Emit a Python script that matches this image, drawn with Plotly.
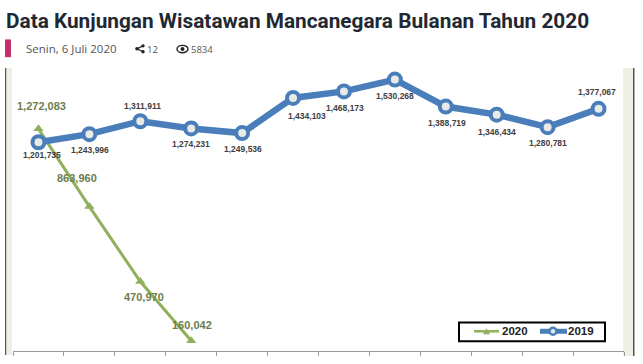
import plotly.graph_objects as go

months = ["Jan", "Feb", "Mar", "Apr", "Mei", "Jun", "Jul", "Agu", "Sep", "Okt", "Nov", "Des"]
values_2019 = [1201735, 1243996, 1311911, 1274231, 1249536, 1434103, 1468173, 1530268, 1388719, 1346434, 1280781, 1377067]
labels_2019 = ["1,201,735", "1,243,996", "1,311,911", "1,274,231", "1,249,536", "1,434,103", "1,468,173", "1,530,268", "1,388,719", "1,346,434", "1,280,781", "1,377,067"]
values_2020 = [1272083, 863960, 470970, 160042]
labels_2020 = ["1,272,083", "863,960", "470,970", "160,042"]
shifts_2019 = [(4, -13), (1, -16), (2, 15), (0, -16), (1, -16), (14, -18), (1, -17), (0, -16), (1, -16), (0, -17), (0, -16), (-2, 17)]
shifts_2020 = [(3, 23), (-12, 29), (4, -15), (1, 16)]

W, H = 643, 364
L, R, T, B = 13, 624, 69, 355
BLUE, GREEN, LABEL_GREEN = "#4a7ebb", "#8fb05c", "#6d7d4c"

def px(x):
    return (x - L) / (R - L)

def py(y):
    return (B - y) / (B - T)

fig = go.Figure()
fig.add_trace(go.Scatter(x=months[:4], y=values_2020, name="2020", mode="lines+markers",
                         line=dict(color=GREEN, width=3),
                         marker=dict(symbol="triangle-up", size=9, color=GREEN)))
fig.add_trace(go.Scatter(x=months, y=values_2019, name="2019", mode="lines+markers",
                         line=dict(color=BLUE, width=6.5),
                         marker=dict(symbol="circle", size=12, color="#e9e9e6", line=dict(color=BLUE, width=4))))

ann = []
for m, v, t, (dx, dy) in zip(months, values_2019, labels_2019, shifts_2019):
    ann.append(dict(x=m, y=v, text=t, showarrow=False, xshift=dx, yshift=dy,
                    font=dict(family="Liberation Sans", size=8.5, color="#404040", weight="bold")))
for m, v, t, (dx, dy) in zip(months, values_2020, labels_2020, shifts_2020):
    ann.append(dict(x=m, y=v, text=t, showarrow=False, xshift=dx, yshift=dy,
                    font=dict(family="Liberation Sans", size=11, color=LABEL_GREEN, weight="bold")))

def header(x, y, text, size, color, family="Open Sans", weight="normal"):
    ann.append(dict(xref="paper", yref="paper", x=px(x), y=py(y), xanchor="left", yanchor="middle",
                    text=text, showarrow=False, font=dict(family=family, size=size, color=color, weight=weight)))

header(4, 20, "Data Kunjungan Wisatawan Mancanegara Bulanan Tahun 2020", 20.8, "#1f2933", "Roboto", "bold")
header(24, 48, "Senin, 6 Juli 2020", 11.5, "#555555")
header(145, 49, "12", 9.5, "#555555")
header(189, 49, "5834", 9.5, "#555555")
header(500, 335, "2020", 11.5, "#222222", "Liberation Sans", "bold")
header(566, 335, "2019", 11.5, "#222222", "Liberation Sans", "bold")

def rect(x0, y0, x1, y1, color):
    return dict(type="rect", xref="paper", yref="paper", x0=px(x0), x1=px(x1), y0=py(y0), y1=py(y1),
                fillcolor=color, line=dict(width=0), layer="below")

def dot(cx, cy, r, color):
    return dict(type="circle", xref="paper", yref="paper", x0=px(cx - r), x1=px(cx + r), y0=py(cy - r), y1=py(cy + r),
                fillcolor=color, line=dict(width=0))

def seg(x0, y0, x1, y1, color="#222222", width=1.3):
    return dict(type="line", xref="paper", yref="paper", x0=px(x0), x1=px(x1), y0=py(y0), y1=py(y1),
                line=dict(color=color, width=width))

shapes = [
    rect(5, 39, 11, 57, "#c2306f"),
    rect(5, 68, 6.5, 359, "#555555"),
    rect(6.5, 68, 12, 359, "#eef0e4"),
    rect(623, 68, 633, 360, "#eef0e4"),
    rect(633, 68, 634.5, 360, "#555555"),
    # share icon
    seg(137, 48.5, 143, 45.5), seg(137, 48.5, 143, 51.5),
    dot(137, 48.5, 1.8, "#222222"), dot(143, 45.5, 1.7, "#222222"), dot(143, 51.5, 1.7, "#222222"),
    # eye icon
    dict(type="circle", xref="paper", yref="paper", x0=px(177), x1=px(188), y0=py(45), y1=py(52.5),
         fillcolor="white", line=dict(color="#222222", width=1.4)),
    dot(182.5, 48.7, 2, "#222222"),
    # legend
    dict(type="rect", xref="paper", yref="paper", x0=px(459), x1=px(605), y0=py(326), y1=py(345),
         fillcolor="white", line=dict(color="black", width=2)),
    seg(474, 335, 499, 335, GREEN, 2.5),
    dict(type="path", xref="paper", yref="paper", fillcolor=GREEN, line=dict(width=0),
         path=f"M {px(483)} {py(338)} L {px(490)} {py(338)} L {px(486.5)} {py(332)} Z"),
    seg(540, 335, 567, 335, BLUE, 5),
    dict(type="circle", xref="paper", yref="paper", x0=px(549.5), x1=px(556.5), y0=py(331.5), y1=py(338.5),
         fillcolor="#e9e9e6", line=dict(color=BLUE, width=2.5)),
]

fig.update_layout(
    width=W, height=H, margin=dict(l=L, r=W - R, t=T, b=H - B, pad=0),
    paper_bgcolor="white", plot_bgcolor="white", showlegend=False,
    xaxis=dict(categoryorder="array", categoryarray=months, range=[-0.5, 11.5], showgrid=False, zeroline=False,
               showticklabels=False, ticks="outside", ticklen=4, tickcolor="#999999",
               tickson="boundaries", showline=True, linecolor="#999999", linewidth=1),
    yaxis=dict(range=[106645, 1585795], visible=False),
    annotations=ann, shapes=shapes,
)
fig.write_html("out.html", config=dict(displayModeBar=False),
               post_script="document.body.style.margin='0';document.body.style.overflow='hidden';")
